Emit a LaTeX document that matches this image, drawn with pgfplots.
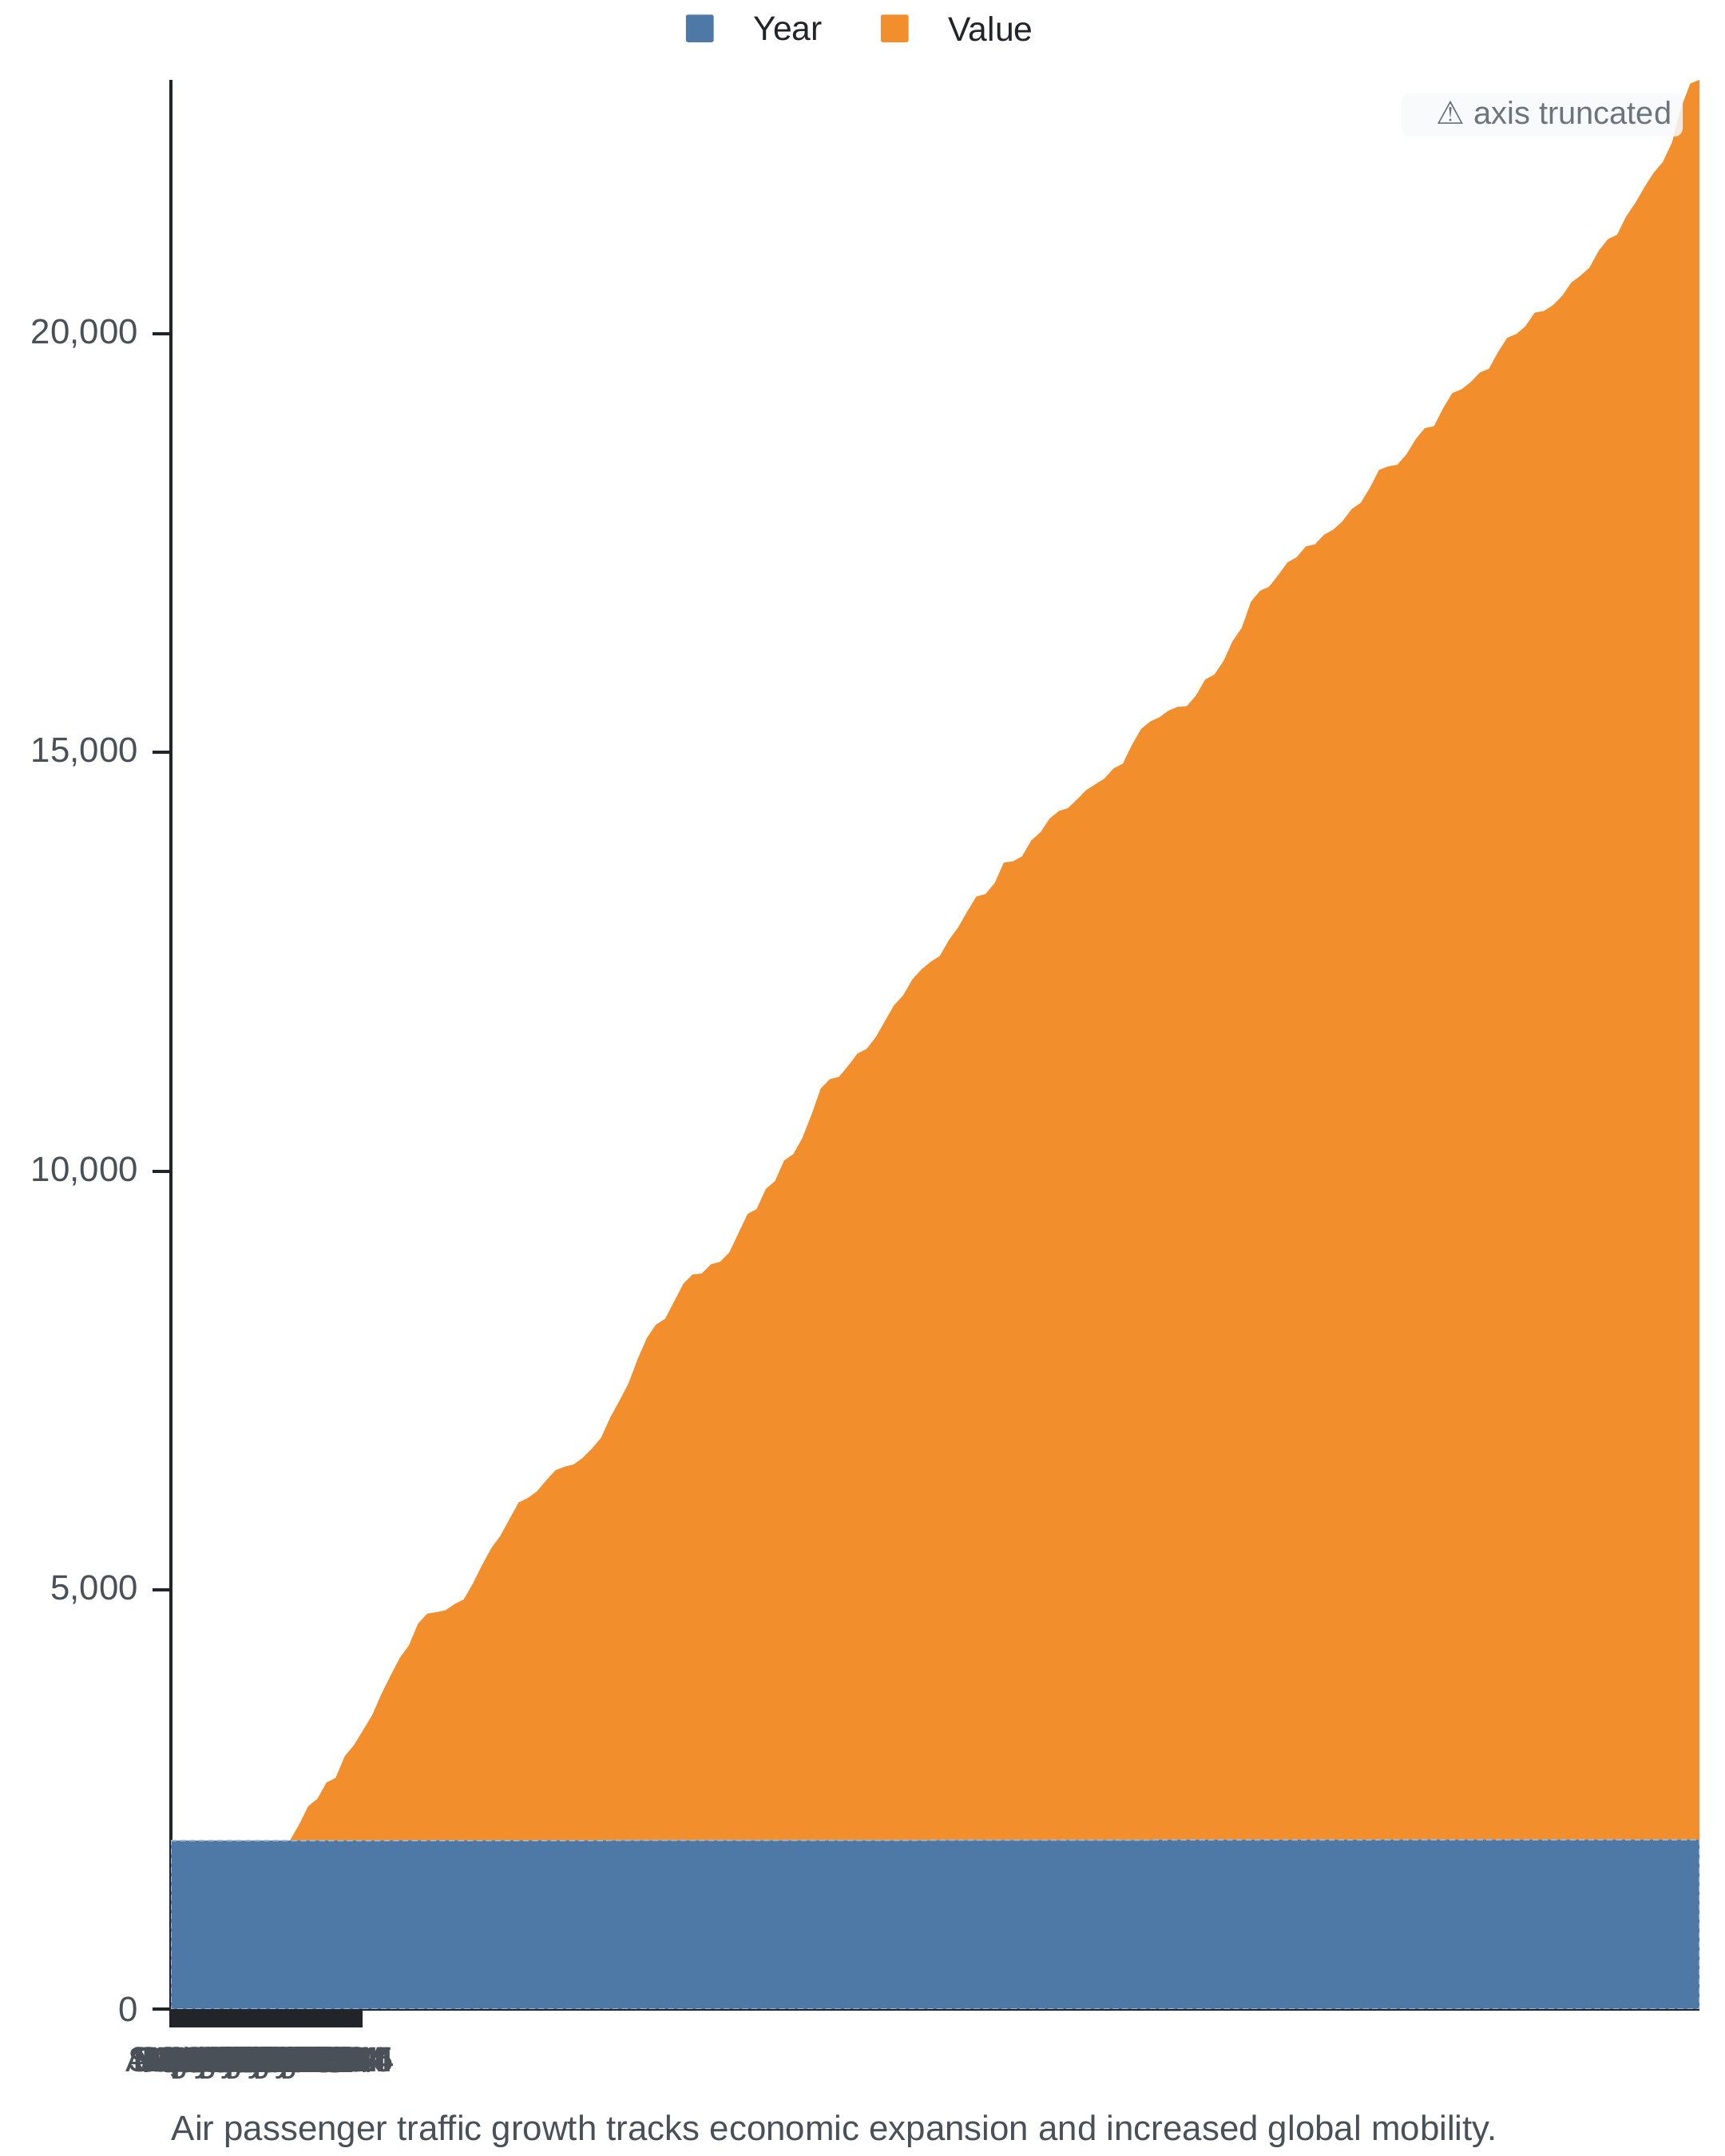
\documentclass[border=0pt]{standalone}
\usepackage{fontspec}
\setmainfont{Liberation Sans}
\newfontfamily\dejavu{DejaVu Sans}
\usepackage{pgfplots}
\usepackage{pgfplotstable}
\pgfplotsset{compat=1.18}
\definecolor{cblue}{HTML}{4E79A7}
\definecolor{corange}{HTML}{F28E2B}
\definecolor{axdark}{HTML}{212529}
\definecolor{ticktxt}{HTML}{4A5058}
\definecolor{notetxt}{HTML}{6C757D}
\definecolor{notebg}{HTML}{F8F9FA}

\pgfplotstableread{
i year value
0 2010 0
1 2010 0
2 2010 0
3 2010 0
4 2010 0
5 2010 0
6 2010 0
7 2010 0
8 2010 0
9 2010 0
10 2010 0
11 2010 0
12 2011 0
13 2011 0
14 2011 189
15 2011 409
16 2011 497
17 2011 693
18 2011 749
19 2011 1009
20 2011 1139
21 2011 1319
22 2011 1499
23 2011 1749
24 2012 1968
25 2012 2178
26 2012 2328
27 2012 2588
28 2012 2708
29 2012 2725
30 2012 2748
31 2012 2823
32 2012 2878
33 2012 3068
34 2012 3288
35 2012 3488
36 2013 3637
37 2013 3837
38 2013 4035
39 2013 4087
40 2013 4167
41 2013 4297
42 2013 4417
43 2013 4461
44 2013 4487
45 2013 4567
46 2013 4677
47 2013 4807
48 2014 5046
49 2014 5246
50 2014 5456
51 2014 5746
52 2014 5996
53 2014 6156
54 2014 6226
55 2014 6436
56 2014 6646
57 2014 6755
58 2014 6766
59 2014 6876
60 2015 6905
61 2015 7015
62 2015 7245
63 2015 7475
64 2015 7535
65 2015 7775
66 2015 7868
67 2015 8115
68 2015 8190
69 2015 8385
70 2015 8665
71 2015 8975
72 2016 9084
73 2016 9113
74 2016 9244
75 2016 9389
76 2016 9444
77 2016 9584
78 2016 9774
79 2016 9965
80 2016 10084
81 2016 10274
82 2016 10394
83 2016 10484
84 2017 10553
85 2017 10743
86 2017 10893
87 2017 11083
88 2017 11263
89 2017 11293
90 2017 11423
91 2017 11669
92 2017 11683
93 2017 11743
94 2017 11933
95 2017 12029
96 2018 12192
97 2018 12282
98 2018 12317
99 2018 12422
100 2018 12532
101 2018 12602
102 2018 12672
103 2018 12792
104 2018 12848
105 2018 13072
106 2018 13262
107 2018 13352
108 2019 13401
109 2019 13481
110 2019 13526
111 2019 13535
112 2019 13661
113 2019 13851
114 2019 13911
115 2019 14071
116 2019 14311
117 2019 14469
118 2019 14781
119 2019 14911
120 2020 14960
121 2020 15100
122 2020 15250
123 2020 15310
124 2020 15440
125 2020 15465
126 2020 15580
127 2020 15640
128 2020 15740
129 2020 15885
130 2020 15960
131 2020 16140
132 2021 16352
133 2021 16394
134 2021 16414
135 2021 16539
136 2021 16719
137 2021 16851
138 2021 16874
139 2021 17089
140 2021 17269
141 2021 17314
142 2021 17399
143 2021 17514
144 2022 17558
145 2022 17758
146 2022 17928
147 2022 17973
148 2022 18068
149 2022 18228
150 2022 18248
151 2022 18318
152 2022 18428
153 2022 18588
154 2022 18668
155 2022 18768
156 2023 18967
157 2023 19104
158 2023 19157
159 2023 19377
160 2023 19537
161 2023 19727
162 2023 19897
163 2023 20027
164 2023 20257
165 2023 20677
166 2023 20962
167 2023 21007
}\datatable

\begin{document}
\begin{tikzpicture}
\begin{axis}[
  at={(53.5bp,46bp)}, anchor=south west,
  scale only axis,
  width=478.5bp, height=604bp,
  xmin=0, xmax=167, ymin=0, ymax=23030,
  stack plots=y,
  axis lines*=left,
  axis line style={axdark, line width=1bp},
  tick align=outside,
  major tick length=5.75bp,
  tick style={axdark, line width=1bp},
  ytick={0,5000,10000,15000,20000},
  yticklabel style={font=\fontsize{11}{13}\selectfont, text=ticktxt, xshift=-1bp},
  /pgf/number format/assume math mode=true,
  /pgf/number format/1000 sep={,},
  scaled y ticks=false,
  xtick={0,0.25,...,20.75},
  xticklabels={},
  extra x ticks={3.25,3.5,...,16.5},
  extra x tick labels={Aug 2010,Sep 2010,Oct 2010,Nov 2010,Dec 2010,
    Jan 2011,Feb 2011,Mar 2011,Apr 2011,May 2011,Jun 2011,Jul 2011,Aug 2011,Sep 2011,Oct 2011,Nov 2011,Dec 2011,
    Jan 2012,Feb 2012,Mar 2012,Apr 2012,May 2012,Jun 2012,Jul 2012,Aug 2012,Sep 2012,Oct 2012,Nov 2012,Dec 2012,
    Jan 2013,Feb 2013,Mar 2013,Apr 2013,May 2013,Jun 2013,Jul 2013,Aug 2013,Sep 2013,Oct 2013,Nov 2013,Dec 2013,
    Jan 2014,Feb 2014,Mar 2014,Apr 2014,May 2014,Jun 2014,Jul 2014,Aug 2014,Sep 2014,Oct 2014,Nov 2014,Dec 2014,
    Jan 2015},
  extra x tick style={major tick length=0pt, tick style={draw=none},
     xticklabel style={font=\fontsize{11}{13}\selectfont, text=ticktxt, yshift=-8.5bp}},
  legend columns=2,
  legend style={draw=none, fill=none, inner sep=0pt,
     at={(axis description cs:0.3365,1.0257)}, anchor=west,
     nodes={inner sep=0pt, font=\fontsize{10.7}{12}\selectfont, text=axdark},
     /tikz/every odd column/.append style={column sep=12.5bp},
     /tikz/every even column/.append style={column sep=18.25bp}},
  legend image code/.code={\fill[#1, draw=none, rounded corners=0.6bp] (0bp,-3.45bp) rectangle (8.7bp,5.15bp);},
]
\addplot[fill=cblue, draw=cblue!55!white, line width=0.5bp, dash pattern=on 1.8bp off 1.1bp] table[x=i, y=year] {\datatable} \closedcycle;
\addlegendentry{Year}
\addplot[fill=corange, draw=none] table[x=i, y=value] {\datatable} \closedcycle;
\addlegendentry{Value}
\end{axis}
\fill[notebg, fill opacity=0.85, rounded corners=2.5bp] (438.75bp,632.25bp) rectangle (526.75bp,645.75bp);
\node[anchor=base east, inner sep=0pt, text=notetxt, font=\fontsize{10}{12}\selectfont] at (523.5bp,636bp) {{\dejavu ⚠} axis truncated};
\node[anchor=base west, inner sep=0pt, text=ticktxt, font=\fontsize{11}{13}\selectfont] at (53.5bp,5bp) {Air passenger traffic growth tracks economic expansion and increased global mobility.};
\pgfresetboundingbox
\useasboundingbox (0,0) rectangle (540bp,675bp);
\end{tikzpicture}
\end{document}
